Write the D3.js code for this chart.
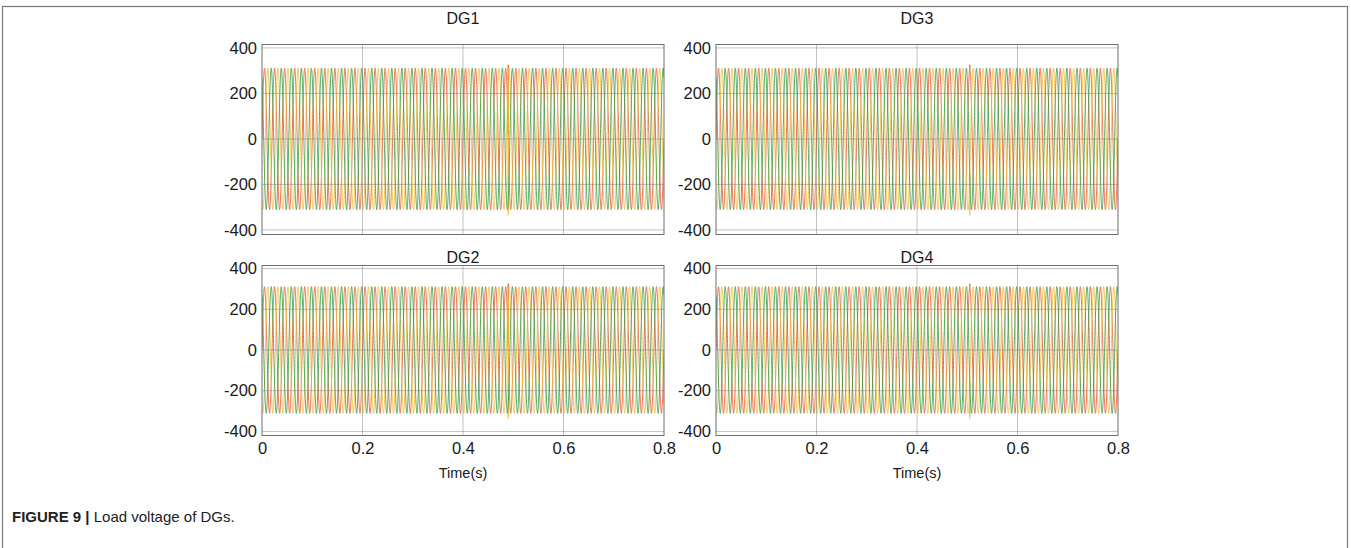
<!DOCTYPE html>
<html lang="en">
  <head>
    <meta charset="UTF-8" />
    <title>Load voltage of DGs</title>
    <script src="https://d3js.org/d3.v7.min.js"></script>
    <style>
      body { margin: 0; background: #fff; }
      svg { font-family: 'Liberation Sans', Arial, sans-serif; }
    </style>
  </head>

  <body>
    <div id="graph"></div>
    <script>
      // 数据
      const panels = ['DG1', 'DG3', 'DG2', 'DG4']
      const phaseNames = ['a', 'b', 'c']
      const phaseColors = ['#e4592a', '#f0be35', '#2e9a44']
      const phaseShift = [0, -120, 120] // 度
      const peakVoltage = [311, 311, 311] // 各相峰值 V
      const frequency = 50 // Hz
      const timeEnd = 0.8
      const sampleStep = 0.0002
      // 0.5s 附近的瞬态尖峰 (每个 DG 的时刻, 相, 值)
      const spikeTime = [0.49, 0.505, 0.49, 0.505]
      const spikePhase = [0, 1]
      const spikeValue = [326, -336]
      const timeTicks = [0, 0.2, 0.4, 0.6, 0.8]
      const timeTickLabels = ['0', '0.2', '0.4', '0.6', '0.8']
      const voltTicks = [-400, -200, 0, 200, 400]
      const voltTickLabels = ['-400', '-200', '0', '200', '400']

      const W = 1351
      const H = 548
      const svg = d3.select('#graph').append('svg').attr('width', W).attr('height', H)

      // 外框
      svg.append('rect').attr('x', 2.5).attr('y', 6.5).attr('width', 1345).attr('height', 600)
        .attr('fill', 'none').attr('stroke', '#7a7a7a').attr('stroke-width', 1.2)

      // 面板布局
      const cols = [262, 716]
      const rows = [{ top: 44.5, bottom: 234.5, title: 24 }, { top: 265.5, bottom: 435.5, title: 263 }]
      const pw = 402

      const buildSeries = (p, k) => {
        const pts = []
        const n = Math.round(timeEnd / sampleStep)
        for (let i = 0; i <= n; i++) {
          const t = i * sampleStep
          pts.push([t, peakVoltage[k] * Math.sin(2 * Math.PI * frequency * t + (phaseShift[k] * Math.PI) / 180)])
        }
        const si = spikePhase.indexOf(k)
        if (si >= 0) {
          const ts = spikeTime[p]
          const idx = pts.findIndex((d) => d[0] > ts)
          pts.splice(idx, 0, [ts, spikeValue[si]])
        }
        return pts
      }

      panels.forEach((name, p) => {
        const col = p % 2
        const row = Math.floor(p / 2)
        const x0 = cols[col]
        const r = rows[row]
        const xScale = d3.scaleLinear().domain([0, timeEnd]).range([x0, x0 + pw])
        const yScale = d3.scaleLinear().domain([-420, 415]).range([r.bottom, r.top])
        const g = svg.append('g')

        const clipId = 'clip' + p
        g.append('clipPath').attr('id', clipId).append('rect')
          .attr('x', x0).attr('y', r.top).attr('width', pw).attr('height', r.bottom - r.top)

        // 波形
        const line = d3.line().x((d) => xScale(d[0])).y((d) => yScale(d[1]))
        const waves = g.append('g').attr('clip-path', `url(#${clipId})`)
        phaseNames.forEach((ph, k) => {
          waves.append('path').datum(buildSeries(p, k))
            .attr('fill', 'none').attr('stroke', phaseColors[k])
            .attr('stroke-width', 1).attr('stroke-opacity', 0.8)
            .attr('d', line)
        })

        // 网格
        g.append('g').selectAll('line').data(timeTicks.slice(1, -1)).join('line')
          .attr('x1', (d) => xScale(d)).attr('x2', (d) => xScale(d))
          .attr('y1', r.top).attr('y2', r.bottom)
          .attr('stroke', '#777').attr('stroke-opacity', 0.45)
        g.append('g').selectAll('line').data(voltTicks).join('line')
          .attr('x1', x0).attr('x2', x0 + pw)
          .attr('y1', (d) => yScale(d)).attr('y2', (d) => yScale(d))
          .attr('stroke', '#777').attr('stroke-opacity', 0.45)

        // 坐标轴
        const yAxis = d3.axisLeft(yScale).tickValues(voltTicks)
          .tickFormat((d, i) => voltTickLabels[i]).tickSize(0).tickPadding(5)
        const ya = g.append('g').attr('transform', `translate(${x0},0)`).call(yAxis)
        ya.select('.domain').remove()
        ya.selectAll('text').attr('font-size', 16.5).attr('fill', '#1a1a1a')

        if (row === 1) {
          const xAxis = d3.axisBottom(xScale).tickValues(timeTicks)
            .tickFormat((d, i) => timeTickLabels[i]).tickSize(0).tickPadding(7)
          const xa = g.append('g').attr('transform', `translate(0,${r.bottom})`).call(xAxis)
          xa.select('.domain').remove()
          xa.selectAll('text').attr('font-size', 16.5).attr('fill', '#1a1a1a')
          g.append('text').attr('x', x0 + pw / 2).attr('y', r.bottom + 42)
            .attr('text-anchor', 'middle').attr('font-size', 14.5).attr('fill', '#1a1a1a').text('Time(s)')
        }

        // 框
        g.append('rect').attr('x', x0).attr('y', r.top).attr('width', pw).attr('height', r.bottom - r.top)
          .attr('fill', 'none').attr('stroke', '#6e6e6e').attr('stroke-width', 1)

        // 标题
        g.append('text').attr('x', x0 + pw / 2).attr('y', r.title)
          .attr('text-anchor', 'middle').attr('font-size', 16).attr('fill', '#1a1a1a').text(name)
      })

      // 图注
      const cap = svg.append('text').attr('x', 12).attr('y', 522).attr('font-size', 15).attr('fill', '#222')
      cap.append('tspan').attr('font-weight', 'bold').text('FIGURE 9 | ')
      cap.append('tspan').text('Load voltage of DGs.')
    </script>
  </body>
</html>
